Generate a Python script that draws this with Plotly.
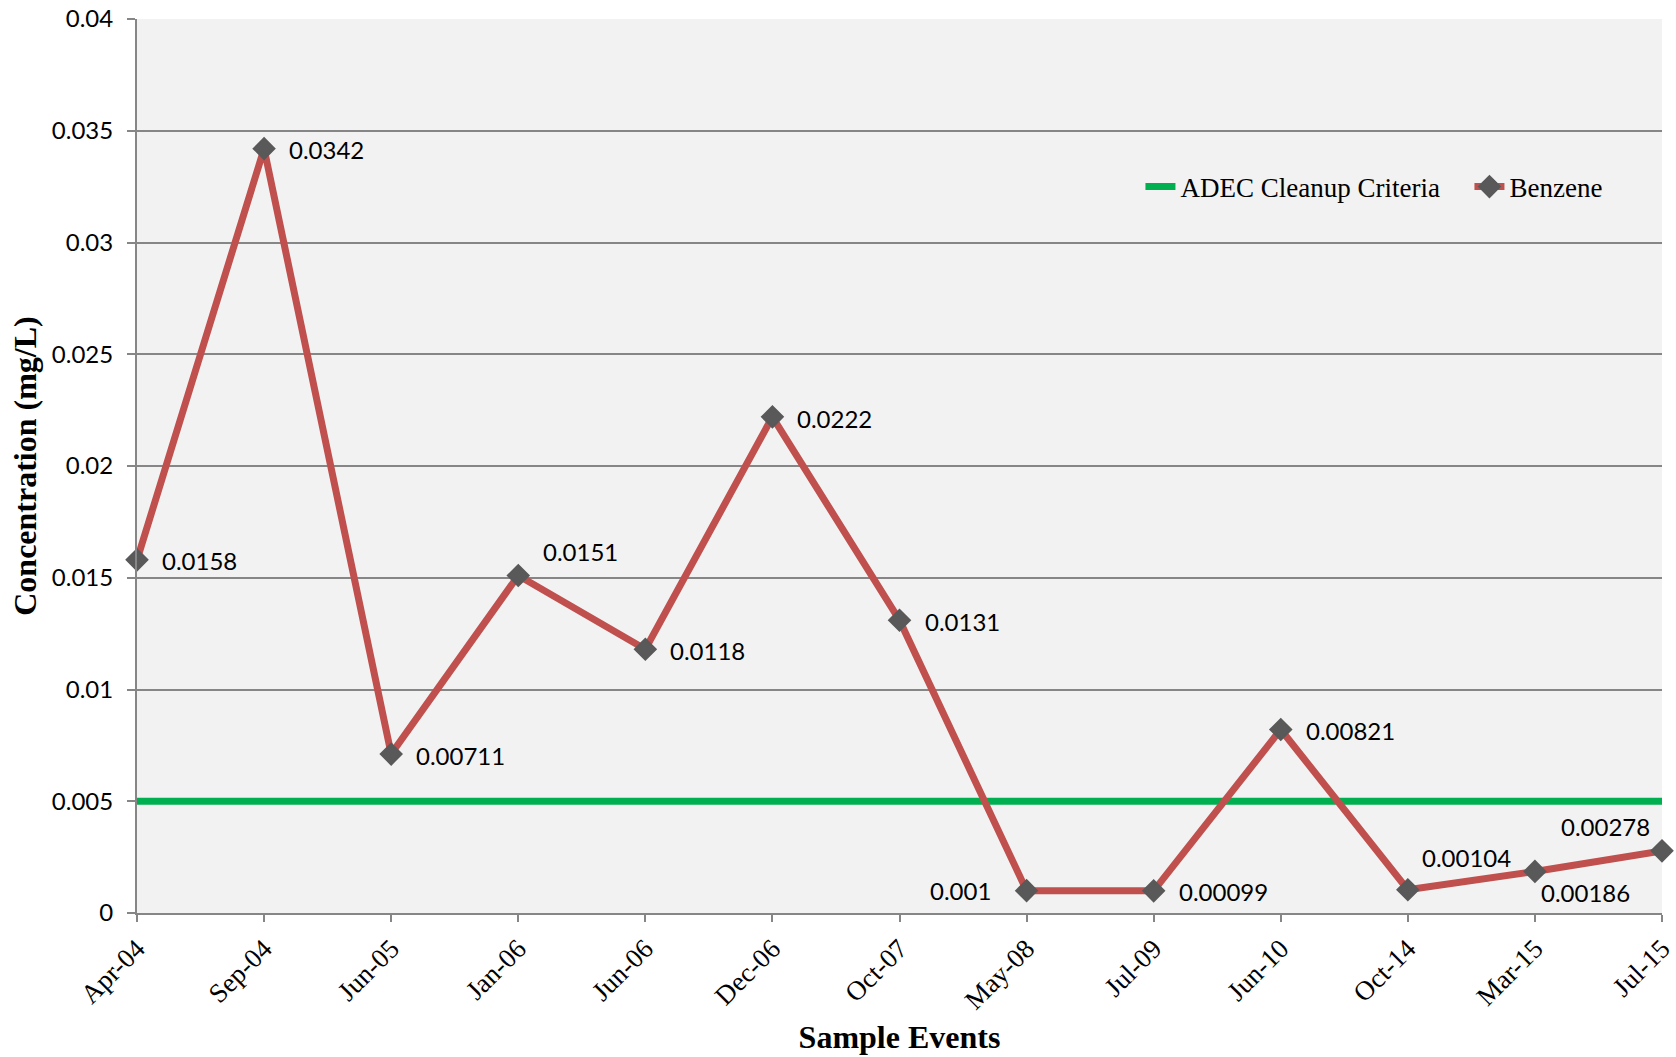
import plotly.graph_objects as go

categories = ["Apr-04", "Sep-04", "Jun-05", "Jan-06", "Jun-06", "Dec-06", "Oct-07",
              "May-08", "Jul-09", "Jun-10", "Oct-14", "Mar-15", "Jul-15"]
benzene = [0.0158, 0.0342, 0.00711, 0.0151, 0.0118, 0.0222, 0.0131,
           0.001, 0.00099, 0.00821, 0.00104, 0.00186, 0.00278]
benzene_labels = ["0.0158", "0.0342", "0.00711", "0.0151", "0.0118", "0.0222", "0.0131",
                  "0.001", "0.00099", "0.00821", "0.00104", "0.00186", "0.00278"]
adec_criteria = [0.005] * len(categories)
y_ticks = [0, 0.005, 0.01, 0.015, 0.02, 0.025, 0.03, 0.035, 0.04]
y_tick_text = ["0", "0.005", "0.01", "0.015", "0.02", "0.025", "0.03", "0.035", "0.04"]

# label placement (style only): anchor side and pixel offsets from each point
label_anchor = ["left", "left", "left", "left", "left", "left", "left",
                "right", "left", "left", "left", "left", "right"]
label_dx = [23, 23, 23, 23, 23, 23, 23, -34, 23, 23, 12, 4, -10]
label_dy = [-1, -1, -1, 24, -1, -2, -1, 0, -1, -1, 32, -21, 24]

fig = go.Figure()
fig.add_trace(go.Scatter(
    x=categories, y=adec_criteria, mode="lines", name="ADEC Cleanup Criteria",
    line=dict(color="#00B050", width=7), hoverinfo="skip", cliponaxis=False,
))
fig.add_trace(go.Scatter(
    x=categories, y=benzene, mode="lines+markers", name="Benzene",
    line=dict(color="#C0504D", width=7),
    marker=dict(symbol="diamond", size=16, color="#595959",
                line=dict(color="#595959", width=2)),
    cliponaxis=False,
))

for cat, val, lab, anc, dx, dy in zip(categories, benzene, benzene_labels,
                                      label_anchor, label_dx, label_dy):
    fig.add_annotation(
        x=cat, y=val, text=lab, showarrow=False,
        xanchor=anc, yanchor="middle", xshift=dx, yshift=dy,
        font=dict(family="Lato", size=24, color="#000000"),
    )

fig.update_layout(
    width=1676, height=1057,
    margin=dict(l=137, r=14, t=19, b=144, autoexpand=False),
    paper_bgcolor="#FFFFFF", plot_bgcolor="#F2F2F2",
    showlegend=True,
    legend=dict(orientation="h", x=0.658, y=0.812, xanchor="left", yanchor="middle",
                bgcolor="rgba(0,0,0,0)",
                font=dict(family="Liberation Serif", size=27, color="#000000"),
                entrywidth=284, entrywidthmode="pixels",
                tracegroupgap=0),
    xaxis=dict(
        type="category", range=[0, 12], showgrid=False,
        showline=True, linecolor="#868686", linewidth=2,
        ticks="outside", ticklen=7, tickcolor="#868686", tickwidth=2,
        tickangle=-45,
        tickfont=dict(family="Liberation Serif", size=27, color="#000000"),
        title=dict(text="<b>Sample Events</b>", standoff=11,
                   font=dict(family="Liberation Serif", size=32, color="#000000")),
    ),
    yaxis=dict(
        range=[0, 0.04], tickvals=y_ticks, ticktext=y_tick_text,
        showgrid=True, gridcolor="#868686", gridwidth=2,
        showline=True, linecolor="#868686", linewidth=2,
        ticks="outside", ticklen=8, tickcolor="#868686", tickwidth=2,
        ticklabelstandoff=9,
        tickfont=dict(family="Lato", size=24, color="#000000"),
        zeroline=False,
        title=dict(text="<b>Concentration (mg/L)</b>", standoff=6,
                   font=dict(family="Liberation Serif", size=32, color="#000000")),
    ),
)

fig.write_html("out.html")
